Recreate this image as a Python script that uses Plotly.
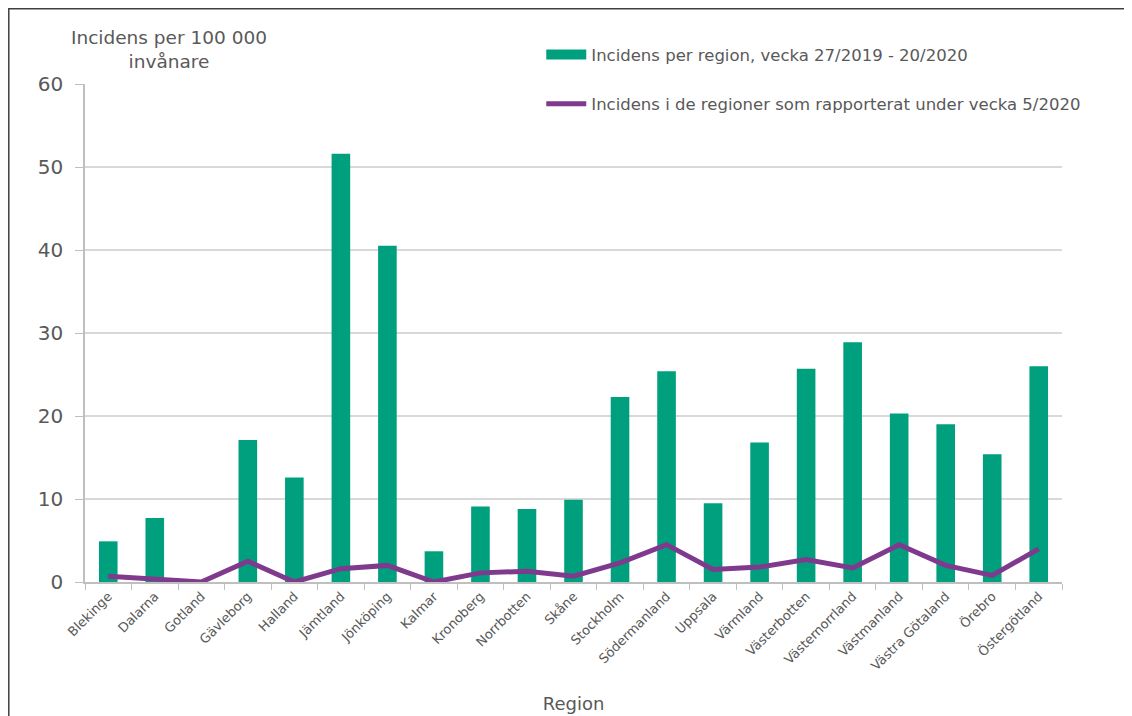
import plotly.graph_objects as go

regions = ["Blekinge", "Dalarna", "Gotland", "Gävleborg", "Halland", "Jämtland",
           "Jönköping", "Kalmar", "Kronoberg", "Norrbotten", "Skåne", "Stockholm",
           "Södermanland", "Uppsala", "Värmland", "Västerbotten", "Västernorrland",
           "Västmanland", "Västra Götaland", "Örebro", "Östergötland"]

incidens_region = [4.9, 7.7, 0.0, 17.1, 12.6, 51.6, 40.5, 3.7, 9.1, 8.8, 9.9, 22.3,
                   25.4, 9.5, 16.8, 25.7, 28.9, 20.3, 19.0, 15.4, 26.0]

incidens_v5 = [0.7, 0.4, 0.0, 2.5, 0.0, 1.6, 2.0, 0.0, 1.1, 1.3, 0.7, 2.3,
               4.5, 1.5, 1.8, 2.7, 1.7, 4.5, 2.0, 0.8, 4.0]

bar_name = "Incidens per region, vecka 27/2019 - 20/2020"
line_name = "Incidens i de regioner som rapporterat under vecka 5/2020"

FONT = "DejaVu Sans"
TXT = "#595959"
GRID = "#d9d9d9"
AXIS = "#bfbfbf"
GREEN = "#00A07E"
PURPLE = "#7F3A8E"

fig = go.Figure()
fig.add_trace(go.Bar(
    x=regions, y=incidens_region, name=bar_name, showlegend=False,
    marker=dict(color=GREEN, line=dict(width=0)),
))
fig.add_trace(go.Scatter(
    x=regions, y=incidens_v5, name=line_name, legendgroup="b",
    mode="lines", line=dict(color=PURPLE, width=5),
))
# legend entry for the bars (wide rectangle swatch as in the original)
fig.add_trace(go.Scatter(
    x=[None], y=[None], name=bar_name, legendgroup="a", legendrank=1,
    mode="lines", line=dict(color=GREEN, width=10),
))

fig.update_layout(
    width=1124, height=708,
    margin=dict(l=77, r=70, t=76, b=134, autoexpand=False),
    paper_bgcolor="white", plot_bgcolor="white",
    font=dict(family=FONT, color=TXT),
    bargap=0.6,
    showlegend=True,
    legend=dict(
        x=0.467, y=1.094, xanchor="left", yanchor="top",
        traceorder="grouped", tracegroupgap=25,
        font=dict(size=16.5, color=TXT, family=FONT),
        itemwidth=40, bgcolor="rgba(0,0,0,0)",
    ),
    xaxis=dict(
        type="category", tickangle=-45, tickfont=dict(size=13, color=TXT),
        showline=True, linecolor=AXIS, linewidth=1.5,
        ticks="outside", tickson="boundaries", ticklen=6, tickcolor=AXIS,
        showgrid=False,
        title=dict(text="Region", font=dict(size=18, color=TXT), standoff=25),
    ),
    yaxis=dict(
        range=[0, 60], dtick=10, tickfont=dict(size=20, color=TXT),
        showline=True, linecolor=AXIS, linewidth=1.5,
        ticks="outside", ticklen=8, tickcolor=AXIS, ticklabelstandoff=8,
        showgrid=True, gridcolor=GRID, gridwidth=1.5,
        zeroline=False,
    ),
    annotations=[dict(
        text="Incidens per 100 000<br>invånare", xref="paper", yref="paper",
        x=0.086, y=1.02, xanchor="center", yanchor="bottom", showarrow=False,
        font=dict(size=18.5, color=TXT, family=FONT), align="center",
    )],
    shapes=[dict(
        type="rect", xref="paper", yref="paper",
        x0=-0.078, x1=1.2, y0=-0.5, y1=1.151,
        line=dict(color="#404040", width=1.5), fillcolor="rgba(0,0,0,0)", layer="below",
    )],
)

fig.write_html("out.html")
